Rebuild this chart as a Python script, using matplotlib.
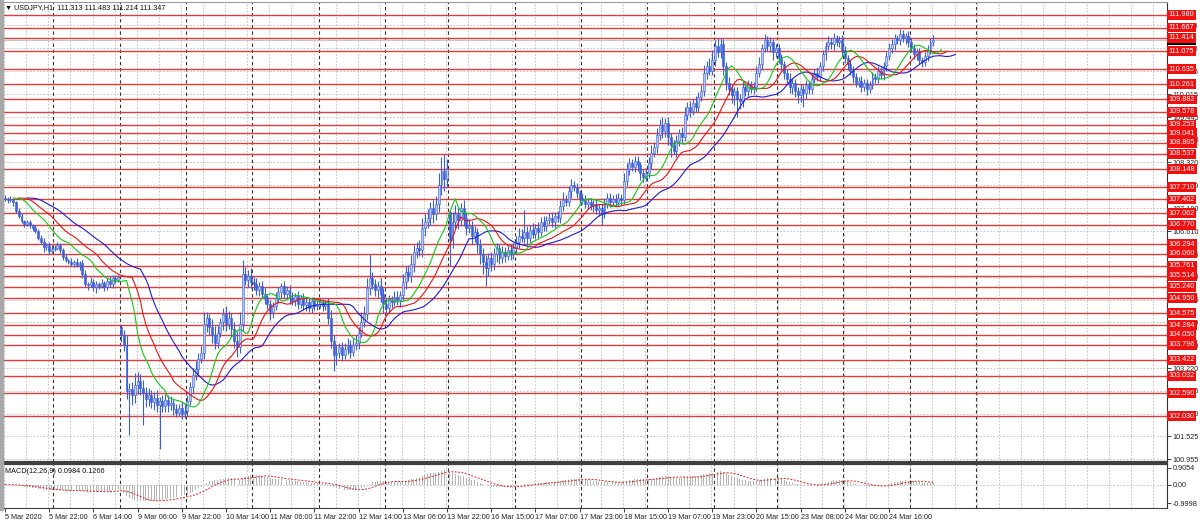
import numpy as np
import pandas as pd
import matplotlib
matplotlib.use("Agg")
import matplotlib.pyplot as plt
from matplotlib.transforms import blended_transform_factory

plt.rcParams["font.family"] = ["Liberation Sans", "DejaVu Sans"]

# USDJPY H1 closes, one line per trading day (5 Mar 06:00 -> 25 Mar 08:00)
close = [
    107.42, 107.38, 107.40, 107.33, 107.12, 106.98, 106.86, 106.80, 106.84, 106.76, 106.70, 106.62, 106.45, 106.35, 106.22, 106.28, 106.12, 106.18,  # 5 Mar
    106.20, 106.26, 106.15, 105.98, 105.90, 105.86, 105.80, 105.84, 105.78, 105.82, 105.55, 105.30, 105.28, 105.35, 105.22, 105.30, 105.26, 105.32, 105.24, 105.38, 105.30, 105.45, 105.40, 105.48,  # 6 Mar
    104.05, 103.80, 102.65, 102.70, 102.55, 102.80, 102.90, 102.72, 102.60, 102.45, 102.55, 102.38, 102.48, 102.30, 102.40, 102.28, 102.42, 102.30, 102.35, 102.20, 102.10, 102.22, 102.08, 102.15,  # 9 Mar
    102.40, 102.75, 103.05, 103.20, 103.45, 103.60, 104.30, 104.45, 104.25, 104.05, 103.85, 104.10, 104.35, 104.55, 104.30, 104.45, 104.20, 103.90, 103.75, 104.30, 105.55, 105.40, 105.50, 105.35,  # 10 Mar
    105.30, 105.15, 105.25, 105.05, 104.95, 104.80, 104.62, 104.75, 104.95, 105.10, 105.25, 105.05, 105.15, 104.95, 104.88, 105.00, 104.82, 104.95, 104.78, 104.85, 104.70, 104.88, 104.75, 104.82,  # 11 Mar
    104.85, 104.75, 104.80, 104.45, 103.90, 103.55, 103.60, 103.75, 103.55, 103.70, 103.80, 103.62, 103.78, 103.85, 104.10, 104.35, 104.55, 105.20, 105.45, 105.30, 105.15, 105.25, 105.05, 104.80,  # 12 Mar
    104.70, 104.90, 104.85, 104.98, 104.90, 105.02, 105.35, 105.60, 105.50, 105.80, 106.10, 106.20, 106.15, 106.70, 106.85, 106.95, 107.20, 107.05, 107.30, 107.75, 108.10, 107.90, 108.15,  # 13 Mar
    106.40, 106.85, 107.05, 106.90, 107.20, 106.95, 106.70, 106.75, 106.50, 106.60, 106.30, 106.05, 105.85, 105.70, 105.95, 105.80, 106.05, 106.20, 105.95, 106.10, 106.00, 106.15, 106.05, 106.20,  # 16 Mar
    106.35, 106.50, 106.45, 106.60, 106.45, 106.65, 106.55, 106.70, 106.60, 106.85, 106.75, 106.90, 106.95, 106.85, 107.00, 106.95, 107.25, 107.40, 107.35, 107.60, 107.75, 107.70, 107.55, 107.45,  # 17 Mar
    107.40, 107.30, 107.35, 107.25, 107.30, 107.15, 107.20, 107.05, 107.30, 107.45, 107.35, 107.42, 107.35, 107.45, 107.40, 107.85, 108.15, 108.30, 108.20, 108.35, 108.25, 108.05, 107.95, 108.05,  # 18 Mar
    108.30, 108.55, 108.70, 109.00, 109.25, 109.10, 109.30, 108.95, 108.75, 108.60, 108.85, 109.05, 108.95, 109.50, 109.70, 109.60, 109.80, 109.70, 109.95, 110.10, 110.55, 110.70, 110.60, 110.85,  # 19 Mar
    111.20, 111.05, 111.25, 110.70, 110.30, 110.15, 110.00, 110.10, 109.90, 109.85, 110.20, 110.10, 110.25, 110.15, 110.20, 110.55, 110.75, 111.15, 111.35, 111.20, 111.30, 111.05, 111.15,  # 20 Mar
    110.90, 110.75, 110.55, 110.40, 110.20, 110.30, 110.10, 110.00, 110.15, 110.05, 110.25, 110.15, 110.40, 110.55, 110.45, 110.70, 111.00, 111.20, 111.30, 111.25, 111.40, 111.30, 111.35, 111.10,  # 23 Mar
    110.90, 110.75, 110.60, 110.45, 110.30, 110.35, 110.20, 110.30, 110.15, 110.25, 110.45, 110.40, 110.60, 110.50, 110.70, 110.95, 111.15, 111.25, 111.40, 111.35, 111.50, 111.40, 111.45, 111.30,  # 24 Mar
    111.15, 111.00, 111.05, 110.85, 110.80, 110.95, 111.10, 111.313, 111.347,  # 25 Mar
]

# upper / lower wick beyond the body, in pips (0.01)
wick_up = [
    6, 4, 8, 5, 3, 7, 9, 4, 6, 5, 3, 8, 4, 6, 9, 5, 7, 10,
    6, 8, 5, 4, 7, 3, 9, 6, 12, 5, 8, 10, 6, 14, 7, 9, 5, 11, 6, 8, 12, 7, 5, 6,
    3, 12, 25, 15, 18, 30, 22, 16, 20, 14, 18, 12, 15, 20, 10, 14, 16, 12, 18, 10, 14, 12, 15, 20,
    15, 12, 18, 20, 14, 16, 30, 15, 12, 18, 22, 16, 12, 15, 20, 18, 14, 16, 25, 30, 35, 18, 15, 20,
    12, 15, 10, 14, 18, 8, 12, 10, 15, 12, 8, 14, 10, 12, 16, 9, 12, 8, 14, 10, 12, 9, 11, 8,
    10, 8, 12, 15, 20, 14, 18, 10, 12, 15, 16, 12, 18, 20, 15, 25, 20, 25, 60, 15, 12, 14, 20, 16,
    15, 12, 10, 14, 16, 12, 20, 15, 18, 22, 16, 14, 20, 25, 18, 22, 15, 20, 18, 30, 35, 42, 25,
    5, 25, 22, 15, 12, 18, 14, 16, 12, 15, 10, 12, 14, 18, 12, 15, 14, 12, 10, 15, 12, 10, 14, 12,
    15, 20, 18, 55, 14, 12, 16, 10, 14, 12, 15, 10, 12, 14, 10, 12, 15, 18, 12, 14, 16, 10, 12, 8,
    10, 12, 8, 10, 9, 12, 8, 10, 14, 12, 10, 8, 12, 10, 8, 20, 15, 12, 10, 14, 12, 8, 10, 12,
    15, 20, 12, 18, 14, 20, 12, 15, 10, 12, 14, 10, 15, 20, 12, 14, 10, 16, 12, 15, 18, 14, 20, 25,
    15, 20, 15, 12, 10, 14, 12, 10, 8, 12, 14, 10, 12, 10, 12, 15, 18, 12, 15, 10, 12, 8, 10,
    10, 12, 8, 10, 14, 12, 8, 10, 12, 9, 11, 8, 12, 10, 14, 12, 10, 12, 15, 10, 12, 8, 10, 12,
    10, 8, 12, 10, 9, 8, 12, 10, 8, 10, 12, 9, 11, 8, 12, 10, 14, 12, 10, 8, 13, 10, 8, 12,
    10, 12, 8, 10, 9, 12, 14, 10, 13.6,
]
wick_dn = [
    5, 6, 4, 8, 6, 5, 4, 7, 5, 6, 8, 4, 6, 5, 12, 6, 8, 5,
    6, 5, 8, 7, 5, 6, 4, 8, 5, 12, 10, 8, 12, 6, 10, 14, 8, 6, 10, 8, 6, 9, 7, 5,
    18, 15, 20, 109, 25, 20, 22, 18, 80, 20, 18, 15, 20, 18, 110, 16, 14, 18, 12, 15, 10, 8, 12, 10,
    12, 10, 15, 12, 14, 10, 15, 18, 20, 22, 16, 14, 12, 18, 15, 12, 20, 18, 25, 15, 15, 12, 18, 15,
    14, 12, 15, 10, 14, 12, 20, 15, 10, 12, 14, 10, 12, 15, 10, 12, 14, 10, 12, 14, 10, 12, 8, 10,
    10, 12, 8, 14, 18, 40, 25, 12, 15, 10, 12, 14, 10, 12, 15, 10, 12, 14, 18, 12, 15, 20, 18, 22,
    15, 12, 14, 10, 12, 16, 14, 18, 12, 15, 20, 16, 14, 18, 20, 15, 18, 22, 16, 20, 25, 30, 20,
    65, 20, 18, 22, 15, 20, 18, 14, 20, 16, 22, 25, 30, 45, 20, 18, 15, 20, 14, 12, 15, 10, 14, 12,
    12, 15, 10, 12, 18, 14, 10, 12, 15, 10, 12, 14, 10, 12, 15, 10, 12, 14, 10, 12, 15, 10, 12, 14,
    12, 10, 14, 12, 15, 10, 16, 27, 12, 10, 14, 12, 10, 12, 14, 10, 12, 15, 10, 12, 14, 16, 12, 10,
    12, 14, 10, 15, 12, 18, 14, 20, 30, 8, 15, 12, 14, 10, 12, 15, 10, 12, 14, 10, 12, 15, 10, 12,
    14, 12, 15, 20, 18, 15, 20, 25, 45, 20, 15, 12, 14, 10, 12, 10, 12, 14, 10, 12, 15, 18, 12,
    12, 14, 15, 12, 16, 18, 15, 20, 18, 35, 15, 12, 14, 10, 12, 10, 12, 14, 10, 12, 14, 10, 12, 14,
    12, 14, 10, 15, 12, 10, 14, 12, 15, 10, 12, 10, 12, 10, 14, 12, 10, 12, 14, 10, 12, 10, 14, 12,
    10, 12, 14, 10, 12, 10, 12, 10, 9.9,
]

first_open = 107.45
gap_opens = {42: 104.25, 161: 107.10}   # Monday opens after the weekend gap

# bar index of each midnight (day separators)
day_starts = [18, 42, 66, 90, 114, 138, 161, 185, 209, 233, 257, 280, 304, 328, 352]

time_labels = ["5 Mar 2020", "5 Mar 22:00", "6 Mar 14:00", "9 Mar 06:00", "9 Mar 22:00",
               "10 Mar 14:00", "11 Mar 06:00", "11 Mar 22:00", "12 Mar 14:00", "13 Mar 06:00",
               "13 Mar 22:00", "16 Mar 15:00", "17 Mar 07:00", "17 Mar 23:00", "18 Mar 15:00",
               "19 Mar 07:00", "19 Mar 23:00", "20 Mar 15:00", "23 Mar 08:00", "24 Mar 00:00",
               "24 Mar 16:00"]

levels = [111.980, 111.667, 111.414, 111.075, 110.635, 110.261, 109.882, 109.578, 109.253,
          109.041, 108.805, 108.537, 108.148, 107.710, 107.402, 107.062, 106.770, 106.294,
          106.060, 105.761, 105.514, 105.240, 104.950, 104.575, 104.284, 104.050, 103.796,
          103.422, 103.032, 102.590, 102.030]

price_ticks = [100.955, 101.525, 102.090, 102.655, 103.220, 103.790, 104.350, 104.915, 105.480,
               106.045, 106.610, 107.180, 107.750, 108.320, 108.880, 109.445, 110.015, 110.585,
               111.150, 111.720]

bid = 111.347

# build OHLC
c = np.array(close)
o = np.r_[first_open, c[:-1]]
for k, v in gap_opens.items():
    o[k] = v
h = np.maximum(o, c) + np.array(wick_up) * 0.01
l = np.minimum(o, c) - np.array(wick_dn) * 0.01
idx = np.arange(len(c))

# Alligator on median price (SMMA)
med = pd.Series((h + l) / 2)
jaw = med.ewm(alpha=1 / 13, adjust=False).mean()
teeth = med.ewm(alpha=1 / 8, adjust=False).mean()
lips = med.ewm(alpha=1 / 5, adjust=False).mean()

# MACD 12,26,9
cs = pd.Series(c)
macd = cs.ewm(span=12, adjust=False).mean() - cs.ewm(span=26, adjust=False).mean()
signal = macd.rolling(9, min_periods=1).mean()

fig = plt.figure(figsize=(12, 5.24), dpi=100)
ax = fig.add_axes([3 / 1200, 1 - 462 / 524, 1164 / 1200, 460 / 524])
ax2 = fig.add_axes([3 / 1200, 1 - 508 / 524, 1164 / 1200, 44 / 524], sharex=ax)
fig.patches.append(plt.Rectangle((0, 1 - 510 / 524), 3 / 1200, 510 / 524,
                                 transform=fig.transFigure, color="#a8a8a8", zorder=0))

grid_col = "#bdbdbd"
for a in (ax, ax2):
    for v in range(0, 424, 8):
        a.axvline(v - 0.3, color=grid_col, lw=0.6, ls=(0, (2, 2)), zorder=0)
    for d in day_starts:
        a.axvline(d - 0.5, color="#333333", lw=0.8, ls=(0, (3, 2.5)), zorder=1)
    a.set_facecolor("white")

for t in price_ticks:
    ax.axhline(t, color=grid_col, lw=0.6, ls=(0, (2, 2)), zorder=0)

# support / resistance levels
for lv in levels:
    ax.axhline(lv, color="#e23b3b", lw=1.0, zorder=1.5)
ax.axhline(bid, color="#c8c8c8", lw=0.8, zorder=1.4)

# candles
blue = "#3a5fd6"
bull = c >= o
ax.vlines(idx, l, h, color=blue, lw=0.8, zorder=3)
body_lo = np.minimum(o, c)
body_h = np.maximum(np.abs(c - o), 0.012)
ax.bar(idx[bull], body_h[bull], bottom=body_lo[bull], width=0.7, color="#b9c9f3",
       edgecolor=blue, linewidth=0.4, zorder=3)
ax.bar(idx[~bull], body_h[~bull], bottom=body_lo[~bull], width=0.7, color=blue,
       edgecolor=blue, linewidth=0.4, zorder=3)

ax.plot(idx + 8, jaw, color="#1c1cd2", lw=0.8, zorder=4)
ax.plot(idx + 5, teeth, color="#e81414", lw=0.8, zorder=4)
ax.plot(idx + 3, lips, color="#14c814", lw=0.8, zorder=4)

ax.set_xlim(-0.7, 420.6)
ax.set_ylim(100.889, 112.30)

ax.yaxis.tick_right()
ax.set_yticks(price_ticks)
ax.set_yticklabels([f"{t:.3f}" for t in price_ticks])
ax.tick_params(axis="y", labelsize=5.2, length=3, width=0.6, pad=1, colors="#222222")
ax.tick_params(axis="x", bottom=False, labelbottom=False)

# red price labels at the right
tr = blended_transform_factory(ax.transAxes, ax.transData)
ax.text(1.0015, bid, f"{bid:.3f}", transform=tr, fontsize=5.2, color="white", ha="left",
        va="center", zorder=5, bbox=dict(boxstyle="square,pad=0.2", fc="black", ec="none"))
for lv in levels:
    ax.text(1.0015, lv, f"{lv:.3f}", transform=tr, fontsize=5.2, color="white", ha="left",
            va="center", zorder=6, bbox=dict(boxstyle="square,pad=0.2", fc="#f01010", ec="none"))

ax.text(2 / 1164, 1 - 6 / 460, "▼ USDJPY,H1  111.313 111.483 111.214 111.347",
        transform=ax.transAxes, fontsize=5.2, va="center", ha="left", color="#111111")

# MACD panel
ax2.axhline(0, color=grid_col, lw=0.6, ls=(0, (2, 2)), zorder=0)
ax2.bar(idx, macd, width=0.35, color="#b4b4b4", zorder=2)
ax2.plot(idx, signal, color="#e02020", lw=0.7, ls=(0, (2, 1.5)), zorder=3)
ax2.set_ylim(-1.251, 1.103)
ax2.yaxis.tick_right()
ax2.set_yticks([0.9054, 0.0, -0.9998])
ax2.set_yticklabels(["0.9054", "0.00", "-0.9998"])
ax2.tick_params(axis="y", labelsize=5.2, length=3, width=0.6, pad=1, colors="#222222")
ax2.set_xticks(np.arange(len(time_labels)) * 16)
ax2.set_xticklabels(time_labels, ha="left")
ax2.tick_params(axis="x", labelsize=5.2, length=3, width=0.6, pad=1, colors="#222222")
ax2.text(2 / 1164, 0.9, "MACD(12,26,9) 0.0984 0.1266", transform=ax2.transAxes,
         fontsize=5.2, va="top", ha="left", color="#111111")

for a in (ax, ax2):
    a.spines["left"].set_visible(False)
    a.spines["right"].set_color("#303030")
    a.spines["right"].set_linewidth(0.8)
ax.spines["top"].set_color("#9a9a9a")
ax.spines["bottom"].set_color("#404040")
ax.spines["bottom"].set_linewidth(1.6)
ax2.spines["top"].set_color("#404040")
ax2.spines["top"].set_linewidth(1.6)
ax2.spines["bottom"].set_color("#404040")

fig.savefig("out.png", dpi=100, facecolor="white")
